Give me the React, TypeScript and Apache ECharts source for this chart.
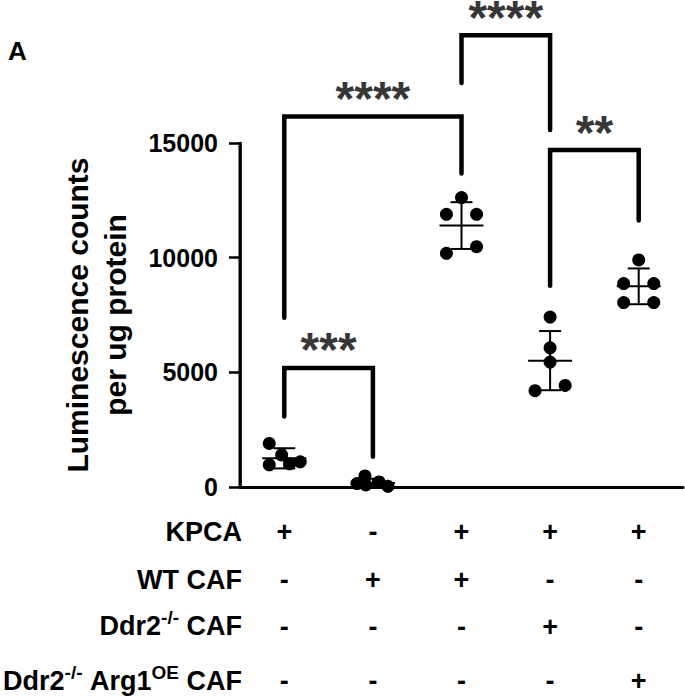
import React, { useEffect, useRef } from "react";
import * as echarts from "echarts";

const categories = [
  "KPCA",
  "WT CAF",
  "KPCA + WT CAF",
  "KPCA + Ddr2-/- CAF",
  "KPCA + Ddr2-/- Arg1OE CAF",
];
const yMin = 0;
const yMax = 15000;

// individual replicate values per group
const pointValues = [
  [1900, 1400, 965, 1010, 1100],
  [480, 150, 90, 220, 30],
  [12620, 11890, 11890, 10190, 10480],
  [7410, 6070, 5450, 4200, 4430],
  [9900, 8870, 8870, 8040, 8040],
];
// horizontal scatter offsets (category units)
const pointJitter = [
  [-0.17, -0.03, -0.17, 0.06, 0.18],
  [-0.09, -0.18, -0.08, 0.07, 0.17],
  [0, -0.17, 0.17, -0.17, 0.17],
  [0, 0, 0, -0.17, 0.17],
  [0, -0.17, 0.17, -0.17, 0.17],
];
const groupMeans = [1250, 170, 11400, 5510, 8750];
const groupSDs = [440, 190, 1020, 1290, 780];

// significance brackets
const bracketFrom = [0, 0, 2, 3];
const bracketTo = [1, 2, 3, 4];
const bracketTop = [5190, 16155, 19693, 14693];
const bracketLeftEnd = [3070, 7382, 17618, 8772];
const bracketRightEnd = [1316, 13670, 15570, 11623];
const bracketLabels = ["***", "****", "****", "**"];

// condition table
const rowNames = [
  "KPCA",
  "WT CAF",
  "Ddr2{sup|-/-} CAF",
  "Ddr2{sup|-/-} Arg1{sup|OE} CAF",
];
const rowKPCA = ["+", "-", "+", "+", "+"];
const rowWT = ["-", "+", "+", "-", "-"];
const rowDdr2 = ["-", "-", "-", "+", "-"];
const rowArg1 = ["-", "-", "-", "-", "+"];

const FONT = "Arial";
const X_MIN = -0.5;
const X_MAX = 4.5;
const GRID_LEFT = 240;
const GRID_TOP = 143;
const GRID_BOTTOM = 210;
const H = 697;

export default function App() {
  const ref = useRef<HTMLDivElement>(null);
  useEffect(() => {
    document.body.style.margin = "0";
    const chart = echarts.init(ref.current!, null, { renderer: "svg" });

    const scatterData: number[][] = [];
    pointValues.forEach((vals, g) =>
      vals.forEach((v, k) => scatterData.push([g + pointJitter[g][k], v]))
    );

    const bracketSeries = bracketFrom.map((f, i) => ({
      type: "line",
      xAxisIndex: 1,
      yAxisIndex: 0,
      clip: false,
      symbol: "none",
      silent: true,
      lineStyle: { color: "#000", width: 4.5, cap: "round", join: "miter" },
      data: [
        [f, bracketLeftEnd[i]],
        [f, bracketTop[i]],
        [bracketTo[i], bracketTop[i]],
        [bracketTo[i], bracketRightEnd[i]],
      ],
      z: 3,
    }));

    const starData = bracketFrom.map((f, i) => ({
      value: [(f + bracketTo[i]) / 2, bracketTop[i]],
      label: { formatter: bracketLabels[i] },
    }));

    const signStyle = { fontSize: 27, fontWeight: "bold", fontFamily: FONT, color: "#000" };
    const rowRich = {
      r1: { ...signStyle, lineHeight: 48 },
      r2: { ...signStyle, lineHeight: 48 },
      r3: { ...signStyle, lineHeight: 46 },
      r4: { ...signStyle, lineHeight: 62 },
    };

    const labelRich = {
      sup: { fontSize: 19, fontWeight: "bold", fontFamily: FONT, fill: "#000", color: "#000", padding: [0, 0, 17, 0] },
    };
    const rowY = [532, 580, 626, 681];

    chart.setOption({
      animation: false,
      title: {
        text: "A",
        left: 3,
        top: 33,
        textStyle: { fontSize: 26, fontWeight: "bold", color: "#000", fontFamily: FONT },
      },
      grid: { left: GRID_LEFT, right: 2, top: GRID_TOP, bottom: GRID_BOTTOM },
      xAxis: [
        {
          type: "category",
          data: categories,
          boundaryGap: true,
          axisLine: { onZero: false, lineStyle: { color: "#000", width: 3 } },
          axisTick: { alignWithLabel: true, length: 13, lineStyle: { color: "#000", width: 2.5 } },
          axisLabel: {
            interval: 0,
            margin: 21,
            formatter: (_v: string, i: number) =>
              `{r1|${rowKPCA[i]}}\n{r2|${rowWT[i]}}\n{r3|${rowDdr2[i]}}\n{r4|${rowArg1[i]}}`,
            rich: rowRich,
          },
          splitLine: { show: false },
        },
        { type: "value", min: X_MIN, max: X_MAX, show: false },
      ],
      yAxis: {
        type: "value",
        min: yMin,
        max: yMax,
        interval: 5000,
        name: "Luminescence counts\nper ug protein",
        nameLocation: "middle",
        nameRotate: 90,
        nameGap: 106,
        nameTextStyle: {
          fontSize: 30,
          fontWeight: "bold",
          lineHeight: 38,
          color: "#000",
          fontFamily: FONT,
          align: "center",
        },
        axisLine: { show: true, onZero: false, lineStyle: { color: "#000", width: 2.5 } },
        axisTick: { show: true, length: 11, lineStyle: { color: "#000", width: 2.5 } },
        axisLabel: {
          margin: 22,
          fontSize: 25,
          fontWeight: "bold",
          color: "#000",
          fontFamily: FONT,
          formatter: (v: number) => String(v),
        },
        splitLine: { show: false },
      },
      graphic: [
        {
          // y-axis spine drawn on top along the grid's left edge
          type: "rect",
          z: 100,
          silent: true,
          shape: {
            x: GRID_LEFT - 1.5,
            y: GRID_TOP - 1,
            width: 3,
            height: H - GRID_BOTTOM - GRID_TOP + 2,
          },
          style: { fill: "#000" },
        },
        ...rowNames.map((t, i) => ({
          type: "text",
          x: 242,
          y: rowY[i],
          style: {
            text: t,
            rich: labelRich,
            fontSize: 27,
            fontWeight: "bold",
            fontFamily: FONT,
            fill: "#000",
            align: "right",
            verticalAlign: "middle",
          },
        })),
      ],
      series: [
        {
          type: "scatter",
          xAxisIndex: 1,
          yAxisIndex: 0,
          clip: false,
          symbol: "circle",
          symbolSize: 13,
          itemStyle: { color: "#000", opacity: 1 },
          data: scatterData,
          z: 2,
        },
        {
          type: "custom",
          xAxisIndex: 1,
          yAxisIndex: 0,
          clip: false,
          z: 4,
          data: groupMeans.map((m, i) => [i, m, groupSDs[i]]),
          renderItem: (_params: any, api: any) => {
            const x = api.value(0);
            const m = api.value(1);
            const s = api.value(2);
            const c = api.coord([x, m]);
            const t = api.coord([x, m + s]);
            const b = api.coord([x, Math.max(0, m - s)]);
            const style = { stroke: "#000", lineWidth: 2 };
            return {
              type: "group",
              children: [
                { type: "line", shape: { x1: c[0] - 22, y1: c[1], x2: c[0] + 22, y2: c[1] }, style },
                { type: "line", shape: { x1: t[0], y1: t[1], x2: b[0], y2: b[1] }, style },
                { type: "line", shape: { x1: t[0] - 11, y1: t[1], x2: t[0] + 11, y2: t[1] }, style },
                { type: "line", shape: { x1: b[0] - 11, y1: b[1], x2: b[0] + 11, y2: b[1] }, style },
              ],
            };
          },
        },
        ...bracketSeries,
        {
          type: "scatter",
          xAxisIndex: 1,
          yAxisIndex: 0,
          clip: false,
          symbolSize: 1,
          itemStyle: { color: "rgba(0,0,0,0)" },
          silent: true,
          label: {
            show: true,
            position: "inside",
            offset: [0, -18],
            fontSize: 48,
            lineHeight: 22,
            fontWeight: "bold",
            color: "#000",
            fontFamily: FONT,
          },
          data: starData,
          z: 5,
        },
      ],
    });
    return () => chart.dispose();
  }, []);
  return <div ref={ref} style={{ width: 685, height: 697 }} />;
}
